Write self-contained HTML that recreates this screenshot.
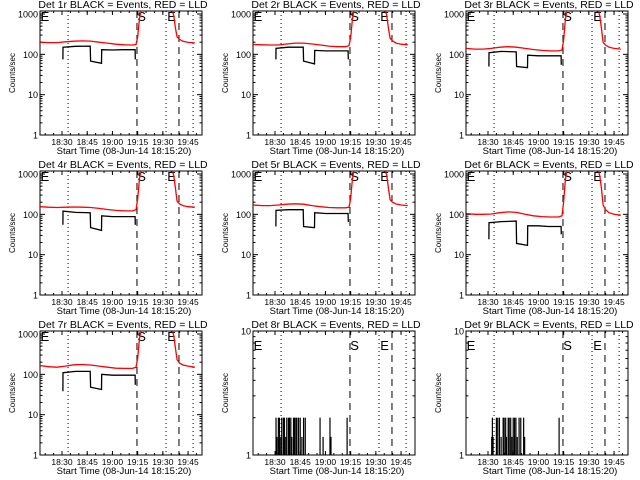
<!DOCTYPE html>
<html><head><meta charset="utf-8">
<style>
html,body{margin:0;padding:0;background:#fff;}
svg{display:block;background:#fff;}
text{font-family:"Liberation Sans",sans-serif;fill:#000;}
</style></head>
<body>
<svg id="chart" width="640" height="480" viewBox="0 0 640 480" xmlns="http://www.w3.org/2000/svg"></svg>
<script>
// ---- data ----
const panelNames = ["1r","2r","3r","4r","5r","6r","7r","8r","9r"];
const xTickMinutes = [30,45,60,75,90,105];
const xTickLabels = ["18:30","18:45","19:00","19:15","19:30","19:45"];
const dottedTimes = [33.6,91.9,108];
const dashedTimes = [74.6,99.6];
const markerTimes = [17.3,74.8,92.6];
const markerLabels = ["E","S","E"];
const redTimes = [17,22,27,32,37,42,47,52,57,62,67,72,74,75,76,77];
const redTailTimes = [95.5,96.5,97.5,98.5,100,102,105,109];
const blackTimes = [30.5,30.6,38,46.8,47,53.5,53.6,60,66,73.5,73.6];
const red1 = [200,195,195,205,212,215,213,200,190,178,172,170,175,260,700,1300];
const red2 = [175,172,170,170,180,190,190,180,170,160,155,155,165,250,700,1300];
const red3 = [140,135,135,140,150,155,150,140,132,125,122,122,128,220,700,1300];
const red4 = [155,150,148,150,152,150,148,140,132,125,122,122,130,230,700,1300];
const red5 = [170,165,165,170,178,182,178,165,155,148,145,145,150,240,700,1300];
const red6 = [105,100,100,102,110,115,112,100,92,88,86,86,92,200,700,1300];
const red7 = [165,155,150,160,172,175,170,160,150,142,140,140,150,240,700,1300];
const tail1 = [1300,900,450,270,235,210,198,192];
const tail2 = [1300,900,450,250,215,190,178,172];
const tail3 = [1300,900,450,200,170,150,140,135];
const tail4 = [1300,900,450,210,180,165,155,150];
const tail5 = [1300,900,450,230,200,180,170,165];
const tail6 = [1300,900,450,170,130,110,100,95];
const tail7 = [1300,900,450,230,190,170,160,150];
const black1 = [75,150,158,160,68,60,130,128,130,130,75];
const black2 = [75,140,150,150,68,58,125,122,122,122,75];
const black3 = [50,110,118,115,50,47,95,92,92,92,55];
const black4 = [55,120,112,110,47,40,92,88,88,88,55];
const black5 = [50,125,130,130,50,47,110,105,105,105,65];
const black6 = [24,62,66,68,19,17,52,52,50,50,32];
const black7 = [38,110,118,118,48,42,100,95,95,95,55];
const bars8Times = [30.6,31.2,32,32.6,33.4,34,35,35.6,36.4,37,38,38.6,39.4,40,41,41.6,42.4,43,44,45,46,47,48,56.8,58.6,62.7,63.3,72.9];
const bars8Vals = [2,1.4,2,2,1.4,2,2,2,1.4,2,2,2,2,1.4,2,2,2,2,2,2,1.4,2,2,2,1.4,2,1.4,2];
const bars9Times = [32.2,32.6,33,35,35.8,36.8,37.8,39,39.6,40.5,41,42,42.6,43.5,44.2,45,45.8,46.6,47.4,48.5,49.5,51.2,51.8,72.3];
const bars9Vals = [1.4,2,1.4,2,2,2,1.4,2,2,2,1.4,2,2,2,1.4,2,2,2,1.4,2,2,2,1.4,2];
const reds = [red1,red2,red3,red4,red5,red6,red7];
const tails = [tail1,tail2,tail3,tail4,tail5,tail6,tail7];
const blacks = [black1,black2,black3,black4,black5,black6,black7];

// ---- drawing ----
const NS = "http://www.w3.org/2000/svg";
const svg = document.getElementById("chart");
const FG = "#000";
function mk(tag, attrs, parent){
  const e = document.createElementNS(NS, tag);
  for (const k in attrs) e.setAttribute(k, attrs[k]);
  parent.appendChild(e);
  return e;
}
const L = 40, R = 202, T = 11, B = 135;
const tMin = 16.9, tMax = 113.3;

for (let p = 0; p < 9; p++) {
  const ox = (p % 3) * 213, oy = Math.floor(p / 3) * 160;
  const g = mk("g", {transform: `translate(${ox},${oy})`}, svg);
  
  
  const lowPanel = p >= 7;
  const yMax = lowPanel ? 10 : 1187;
  const lMax = Math.log10(yMax);
  const xs = t => L + (t - tMin) / (tMax - tMin) * (R - L);
  const ys = v => B - Math.log10(v) / lMax * (B - T);

  const clip = mk("clipPath", {id: "c" + p}, g);
  mk("rect", {x: L, y: T, width: R - L, height: B - T}, clip);

  const title = mk("text", {x: (L + R) / 2 + 2, y: 8, "text-anchor": "middle", "font-size": "10.5"}, g);
  title.textContent = "Det " + panelNames[p] + " BLACK = Events, RED = LLD";
  
  

  const yt = mk("text", {x: 0, y: 0, "text-anchor": "middle", "font-size": "8", transform: `translate(15,${(T + B) / 2}) rotate(-90)`}, g);
  yt.textContent = "Counts/sec";
  
  

  const xt = mk("text", {x: (L + R) / 2 + 3, y: 154, "text-anchor": "middle", "font-size": "9.5"}, g);
  xt.textContent = "Start Time (08-Jun-14 18:15:20)";
  
  

  const box = mk("rect", {x: L, y: T, width: R - L, height: B - T, fill: "none", stroke: FG, "stroke-width": 1}, g);
  
  

  const decades = lowPanel ? [1,10] : [1,10,100,1000];
  for (const d of decades) {
    const y = ys(d);
    mk("line", {x1: L, x2: L + 5, y1: y, y2: y, stroke: FG}, g);
    mk("line", {x1: R - 5, x2: R, y1: y, y2: y, stroke: FG}, g);
    const tl = mk("text", {x: L - 2, y: y + 3.5, "text-anchor": "end", "font-size": "9"}, g);
    tl.textContent = String(d);
    
    
    for (let m = 2; m <= 9; m++) {
      const v = d * m;
      if (v > yMax) break;
      const yy = ys(v);
      mk("line", {x1: L, x2: L + 2.5, y1: yy, y2: yy, stroke: FG}, g);
      mk("line", {x1: R - 2.5, x2: R, y1: yy, y2: yy, stroke: FG}, g);
    }
  }
  xTickMinutes.forEach((t, i) => {
    const x = xs(t);
    mk("line", {x1: x, x2: x, y1: B, y2: B - 4, stroke: FG}, g);
    mk("line", {x1: x, x2: x, y1: T, y2: T + 4, stroke: FG}, g);
    const tl = mk("text", {x: x, y: 145, "text-anchor": "middle", "font-size": "8.5"}, g);
    tl.textContent = xTickLabels[i];
    
    
  });
  for (let t = 20; t <= 110; t += 5) {
    const x = xs(t);
    mk("line", {x1: x, x2: x, y1: B, y2: B - 2, stroke: FG}, g);
    mk("line", {x1: x, x2: x, y1: T, y2: T + 2, stroke: FG}, g);
  }

  for (const t of dottedTimes) {
    const l = mk("line", {x1: xs(t), x2: xs(t), y1: T, y2: B, stroke: FG, "stroke-dasharray": "1,3"}, g);
    
    
  }
  for (const t of dashedTimes) {
    const l = mk("line", {x1: xs(t), x2: xs(t), y1: T, y2: B, stroke: FG, "stroke-dasharray": "7,5"}, g);
    
    
  }
  markerTimes.forEach((t, i) => {
    const m = mk("text", {x: xs(t), y: lowPanel ? 30 : 21, "font-size": "13"}, g);
    m.textContent = markerLabels[i];
    
    
  });

  const pg = mk("g", {"clip-path": `url(#c${p})`}, g);
  if (!lowPanel) {
    const rv = reds[p], tv = tails[p], bv = blacks[p];
    let d = "";
    redTimes.forEach((t, i) => { d += (i ? "L" : "M") + xs(t).toFixed(1) + "," + ys(rv[i]).toFixed(1); });
    let d2 = "";
    redTailTimes.forEach((t, i) => { d2 += (i ? "L" : "M") + xs(t).toFixed(1) + "," + ys(tv[i]).toFixed(1); });
    const red = mk("path", {d: d, fill: "none", stroke: "#ff0000", "stroke-width": 1.3}, pg);
    
    
    const red2p = mk("path", {d: d2, fill: "none", stroke: "#ff0000", "stroke-width": 1.3}, pg);
    
    
    let d3 = "";
    blackTimes.forEach((t, i) => { d3 += (i ? "L" : "M") + xs(t).toFixed(1) + "," + ys(bv[i]).toFixed(1); });
    const blk = mk("path", {d: d3, fill: "none", stroke: FG, "stroke-width": 1.3}, pg);
    
    
  } else {
    const bt = p === 7 ? bars8Times : bars9Times;
    const bvv = p === 7 ? bars8Vals : bars9Vals;
    bt.forEach((t, i) => {
      const l = mk("line", {x1: xs(t), x2: xs(t), y1: ys(1), y2: ys(bvv[i]), stroke: FG, "stroke-width": 1.2}, pg);
      
      
    });
  }
}
</script>
</body></html>
